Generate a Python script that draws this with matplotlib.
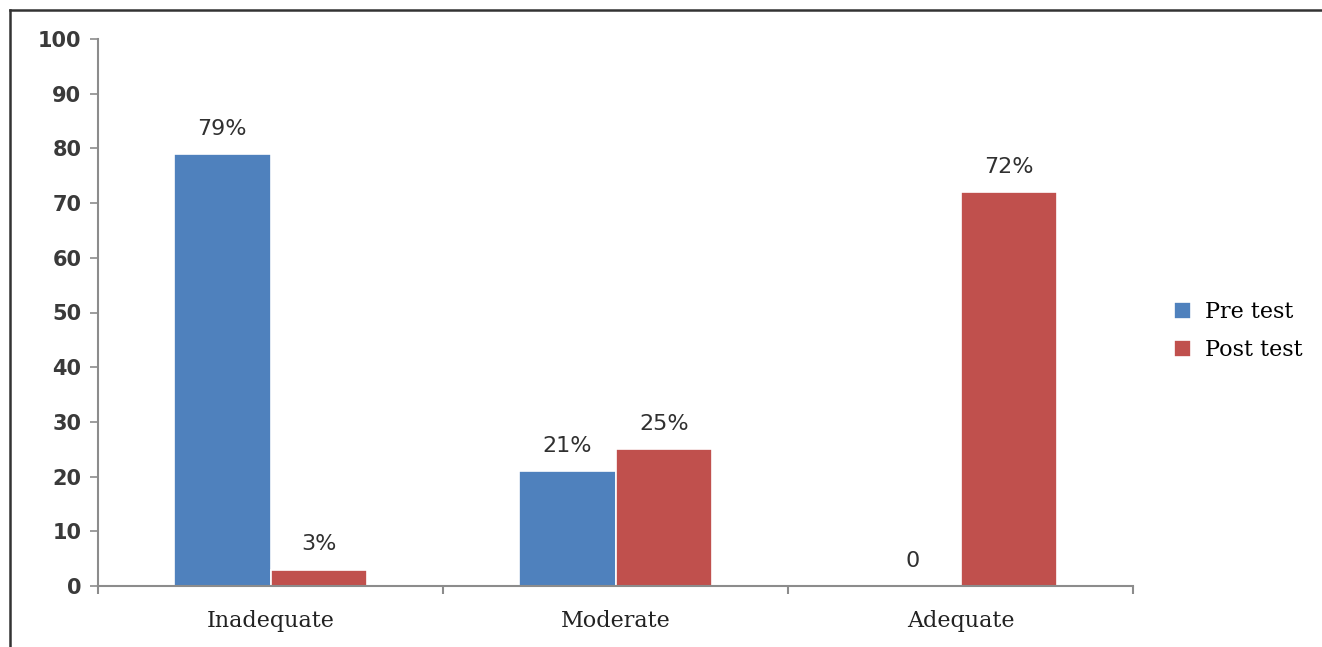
import numpy as np
import matplotlib.pyplot as plt
from matplotlib.lines import Line2D

# chart data
categories = ['Inadequate', 'Moderate', 'Adequate']
pre_test = [79, 21, 0]
post_test = [3, 25, 72]
pre_labels = ['79%', '21%', '0']
post_labels = ['3%', '25%', '72%']

blue = '#4F81BD'
red = '#C0504D'
axis_grey = '#8C8C8C'

fig = plt.figure(figsize=(13.22, 6.47), dpi=100)
ax = fig.add_axes([98/1322, 1 - 586/647, (1133 - 98)/1322, (586 - 39)/647])

x = np.arange(len(categories))
w = 0.28
b1 = ax.bar(x - 0.14, pre_test, w, color=blue, edgecolor='white', linewidth=1.2, label='Pre test')
b2 = ax.bar(x + 0.14, post_test, w, color=red, edgecolor='white', linewidth=1.2, label='Post test')

for rect, lab in zip(b1, pre_labels):
    ax.annotate(lab, (rect.get_x() + rect.get_width()/2, rect.get_height()),
                xytext=(0, 11), textcoords='offset points', ha='center', va='bottom',
                fontsize=16, color='#303030')
for rect, lab in zip(b2, post_labels):
    ax.annotate(lab, (rect.get_x() + rect.get_width()/2, rect.get_height()),
                xytext=(0, 11), textcoords='offset points', ha='center', va='bottom',
                fontsize=16, color='#303030')

ax.set_xlim(-0.5, 2.5)
ax.set_ylim(0, 100)
ax.set_yticks(range(0, 101, 10))

# boundaries as major ticks, category names on minor ticks
ax.set_xticks([-0.5, 0.5, 1.5, 2.5])
ax.set_xticklabels([])
ax.set_xticks(x, minor=True)
ax.set_xticklabels(categories, minor=True, fontsize=16, family='DejaVu Serif', color='#222222')
ax.tick_params(axis='x', which='major', direction='out', length=6, width=1.5, color=axis_grey)
ax.tick_params(axis='x', which='minor', length=0, pad=17)
ax.tick_params(axis='y', direction='out', length=6, width=1.2, color=axis_grey,
               labelsize=15, labelcolor='#3a3a3a', pad=6)
for t in ax.get_yticklabels():
    t.set_fontweight('bold')

for s in ['top', 'right']:
    ax.spines[s].set_visible(False)
for s in ['left', 'bottom']:
    ax.spines[s].set_color(axis_grey)
    ax.spines[s].set_linewidth(1.5)

ax.legend(loc='center left', bbox_to_anchor=(1.02, 0.466), frameon=False,
          prop={'family': 'DejaVu Serif', 'size': 16},
          handlelength=0.8, handleheight=0.8, handletextpad=0.6, labelspacing=0.75)

# outer frame (left and top only)
fig.add_artist(Line2D([9.5/1322, 9.5/1322], [0, 1 - 10/647], transform=fig.transFigure,
                      color='#333333', linewidth=1.8))
fig.add_artist(Line2D([9.5/1322, 1], [1 - 10/647, 1 - 10/647], transform=fig.transFigure,
                      color='#333333', linewidth=1.8))

fig.savefig('out.png', dpi=100)
